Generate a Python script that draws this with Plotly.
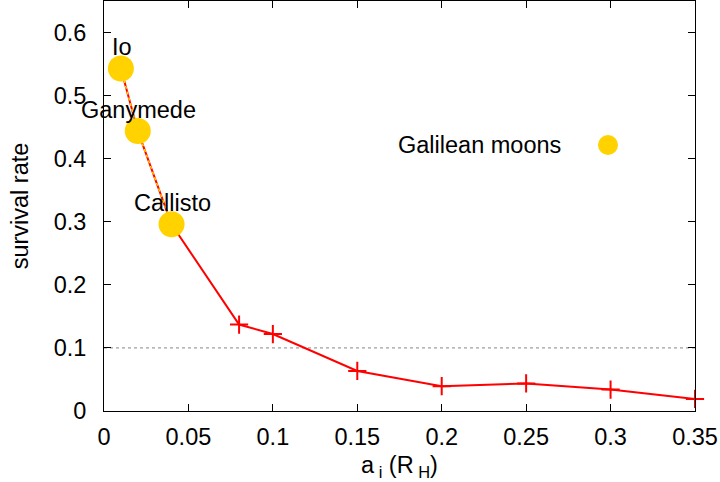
import plotly.graph_objects as go

# Data
a_i = [0.01, 0.02, 0.04, 0.08, 0.10, 0.15, 0.20, 0.25, 0.30, 0.35]
survival = [0.543, 0.444, 0.296, 0.137, 0.122, 0.0635, 0.0394, 0.0437, 0.034, 0.0191]

moon_names = ["Io", "Ganymede", "Callisto"]
moon_a = [0.01, 0.02, 0.04]
moon_survival = [0.543, 0.444, 0.296]

threshold = 0.1
legend_label = "Galilean moons"

FONT = "Liberation Sans, Arial, Helvetica, sans-serif"
FS = 23.5
GOLD = "#FFD200"
RED = "#FF0000"

L, R, T, B = 104, 25, 1, 71
W, H = 720, 482

fig = go.Figure()

fig.add_trace(go.Scatter(
    x=a_i, y=survival, mode="lines+markers",
    line=dict(color=RED, width=2),
    marker=dict(symbol="cross-thin", size=13, line=dict(color=RED, width=2)),
    showlegend=False, hoverinfo="skip", cliponaxis=False,
))

fig.add_trace(go.Scatter(
    x=moon_a, y=moon_survival, mode="lines+markers",
    line=dict(color=GOLD, width=1.5, dash="3px,3px"),
    marker=dict(symbol="circle", size=26, color=GOLD),
    showlegend=False, hoverinfo="skip", cliponaxis=False,
))

for name, xv, yv in zip(moon_names, moon_a, moon_survival):
    fig.add_annotation(
        x=xv, y=yv, text=name, showarrow=False,
        xanchor="center", yanchor="middle", yshift=21, xshift=1,
        font=dict(family=FONT, size=FS, color="black"),
    )

fig.add_hline(y=threshold, line=dict(color="#888888", width=1, dash="dot"), layer="below")

# custom legend (text left, symbol right)
pw = W - L - R
ph = H - T - B
fig.add_annotation(
    xref="paper", yref="paper",
    x=(563 - L) / pw, y=1 - (145 - T) / ph,
    xanchor="right", yanchor="middle",
    text=legend_label, showarrow=False,
    font=dict(family=FONT, size=FS, color="black"),
)
fig.add_shape(
    type="circle", xref="paper", yref="paper",
    xsizemode="pixel", ysizemode="pixel",
    xanchor=(608 - L) / pw, yanchor=1 - (145 - T) / ph,
    x0=-10, x1=10, y0=-10, y1=10,
    fillcolor=GOLD, line=dict(width=0),
)

axis_common = dict(
    showline=True, mirror="ticks", linecolor="black", linewidth=1,
    ticks="inside", ticklen=7, tickcolor="black", tickwidth=1,
    showgrid=False, zeroline=False,
    tickfont=dict(family=FONT, size=FS, color="black"),
)

fig.update_xaxes(
    range=[0, 0.35], dtick=0.05, tick0=0,
    title=dict(text="a<sub> i</sub> (R<sub> H</sub>)",
               font=dict(family=FONT, size=FS, color="black"), standoff=7),
    ticklabelstandoff=5,
    **axis_common,
)
fig.update_yaxes(
    range=[0, 0.65], dtick=0.1, tick0=0,
    title=dict(text="survival rate",
               font=dict(family=FONT, size=FS, color="black"), standoff=18),
    ticklabelstandoff=12,
    **axis_common,
)

fig.update_layout(
    width=W, height=H,
    margin=dict(l=L, r=R, t=T, b=B, autoexpand=False),
    plot_bgcolor="white", paper_bgcolor="white",
    font=dict(family=FONT, size=FS, color="black"),
    hovermode=False,
)

fig.write_html("out.html", config={"displayModeBar": False},
               post_script="document.body.style.margin='0';document.body.style.overflow='hidden';")
